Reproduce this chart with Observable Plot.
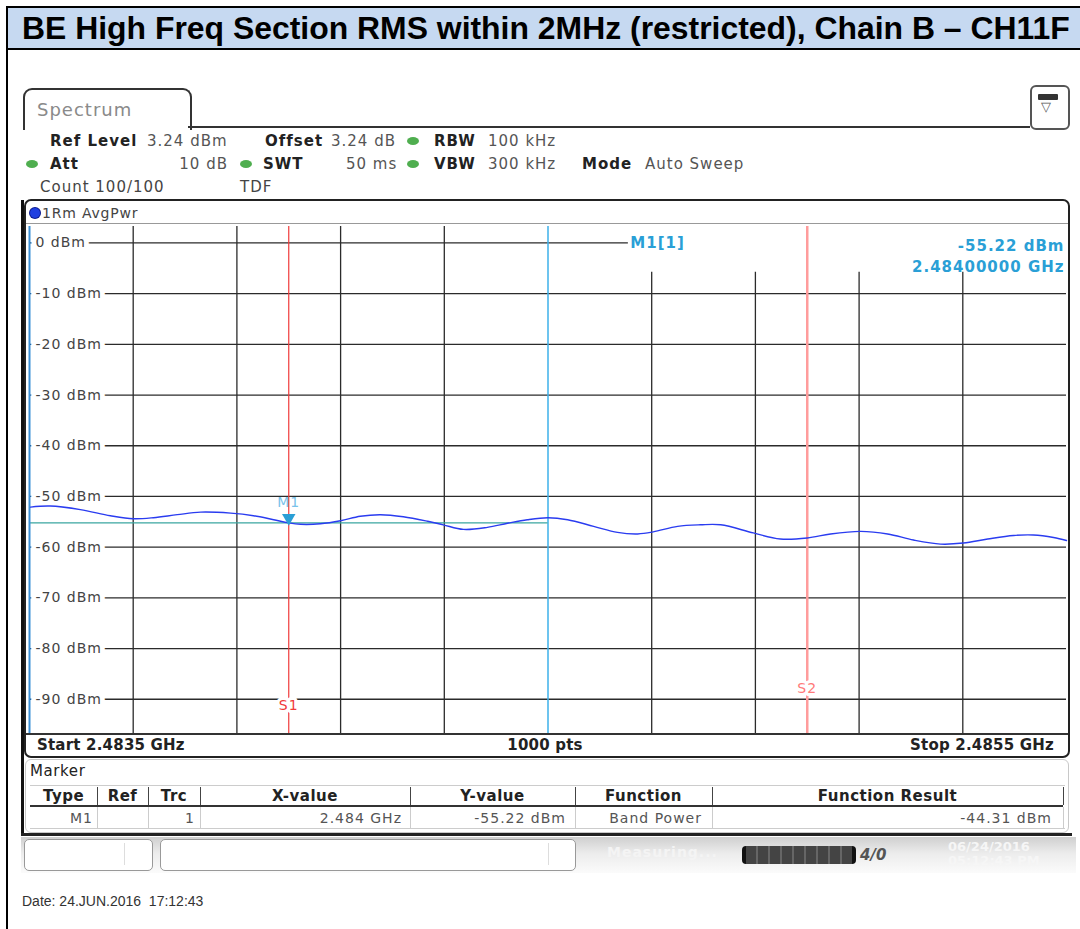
<!DOCTYPE html>
<html><head><meta charset="utf-8">
<script src="https://cdn.jsdelivr.net/npm/d3@7"></script>
<script src="https://cdn.jsdelivr.net/npm/@observablehq/plot@0.6"></script>
<style>
body{margin:0;width:1080px;height:929px;position:relative;overflow:hidden;background:#fff;font-family:"DejaVu Sans",sans-serif;}
.a{position:absolute;white-space:nowrap;}
.s{font-family:"DejaVu Sans";font-size:15px;line-height:18px;color:#555;letter-spacing:1px;}
.b{font-weight:bold;color:#222;}
.dot{position:absolute;width:12px;height:8px;border-radius:50%;background:#4fae4f;}
.ln{position:absolute;}
</style></head>
<body>
<div id="root"></div>
<script>
// ---------- data ----------
const titleText = "BE High Freq Section RMS within 2MHz (restricted), Chain B \u2013 CH11F";
const freqMHz = [2483.502,2483.540,2483.598,2483.656,2483.700,2483.739,2483.785,2483.830,2483.888,2483.932,2483.971,2484.000,2484.023,2484.061,2484.100,2484.138,2484.177,2484.221,2484.268,2484.298,2484.337,2484.383,2484.422,2484.460,2484.500,2484.538,2484.588,2484.634,2484.673,2484.703,2484.750,2484.794,2484.833,2484.896,2484.948,2485.000,2485.045,2485.103,2485.155,2485.205,2485.257,2485.301,2485.348,2485.398,2485.436,2485.475,2485.500];
const levelDbm = [-52.1,-51.9,-52.6,-53.8,-54.4,-54.2,-53.6,-53.1,-53.3,-53.8,-54.6,-55.22,-55.5,-55.4,-54.8,-53.9,-53.6,-54.0,-54.9,-55.6,-56.5,-56.1,-55.3,-54.6,-54.2,-54.6,-55.9,-57.1,-57.4,-57.0,-55.9,-55.6,-55.6,-57.2,-58.4,-58.2,-57.4,-56.9,-57.4,-58.6,-59.4,-59.2,-58.4,-57.7,-57.6,-58.1,-58.7];
const gridLevels = [0,-10,-20,-30,-40,-50,-60,-70,-80,-90];
const gridFreqsLeft = [2483.7,2483.9,2484.1,2484.3];
const gridFreqsRight = [2484.7,2484.9,2485.1,2485.3];
const refLevel = 3.24, bottomLevel = -96.76;
const startMHz = 2483.5, stopMHz = 2485.5, centerMHz = 2484.5;
const markerFreq = 2484.0, markerLevel = -55.22;
const s1Freq = 2484.0, s2Freq = 2485.0;
const readoutTop = -5.8; // dBm where right-half grid lines start
const zeroLineEnd = 2484.655;
const header1 = [["Ref Level",1,50],["3.24 dBm",0,147],["Offset",1,265],["3.24 dB",0,331],["RBW",1,434],["100 kHz",0,488]];
const header2 = [["Att",1,50],["SWT",1,263],["50 ms",0,346],["VBW",1,434],["300 kHz",0,488],["Mode",1,582],["Auto Sweep",0,645]];
const tableCols = ["Type","Ref","Trc","X-value","Y-value","Function","Function Result"];
const tableRow = ["M1","","1","2.484 GHz","-55.22 dBm","Band Power","-44.31 dBm"];
const colEdges = [30,97,148,200,410,575,712,1063];

const root = document.getElementById("root");
function add(html){root.insertAdjacentHTML("beforeend", html);}
function box(l,t,w,h,css){add(`<div class="ln" style="left:${l}px;top:${t}px;width:${w}px;height:${h}px;${css||""}"></div>`);}
function txt(s,l,cy,cls,css){add(`<div class="a ${cls||""}" style="left:${l}px;top:${cy-9}px;${css||""}">${s}</div>`);}

// outer document frame + title band
box(6,6,1080,940,"border-left:2px solid #000;border-top:2px solid #000;");
box(8,8,1072,40,"background:#c6d9f1;border-bottom:2px solid #000;");
add(`<div id="title" class="a" style="left:22px;top:13px;font-family:'Liberation Sans',Arial,sans-serif;font-weight:bold;font-size:25px;line-height:30px;color:#000;">${titleText}</div>`);

// tab + top line + icon
box(23,88,165,40,"border:2px solid #333;border-bottom:none;border-radius:9px 9px 0 0;background:#fff;");
txt("Spectrum",37,108,"","font-family:'DejaVu Sans';font-size:18px;color:#8a8a8a;letter-spacing:1px;");
box(188,126,842,2,"background:#333;");
box(1030,85,36,41,"border:2px solid #555;border-radius:6px;background:#fff;");
box(1038,94,20,6,"background:#333;border-radius:1px;");
add(`<div class="a" style="left:1041px;top:99px;font-size:13px;color:#555;">▽</div>`);

// header rows
header1.forEach(([s,b,x])=>txt(s,x,141,"s"+(b?" b":"")));
header2.forEach(([s,b,x])=>txt(s,x,164,"s"+(b?" b":"")));
txt("10 dB",228,164,"s","transform:translateX(-100%);");
[[407,137],[26,160],[240,160],[407,160]].forEach(([x,y])=>add(`<div class="dot" style="left:${x}px;top:${y}px"></div>`));
txt("Count 100/100",40,187,"s","color:#444;");
txt("TDF",240,187,"s","color:#444;");

// trace window
box(21,200,3,636,"background:#111;");
box(24,199,1042,555,"border:2px solid #222;border-radius:7px;");
add(`<div class="a" style="left:30px;top:208px;width:10px;height:10px;border-radius:50%;background:#1f3fe0;box-shadow:0 0 0 1px #0a1a90;"></div>`);
txt("1Rm AvgPwr",42,213,"s","color:#444;font-size:14px;letter-spacing:0.8px;");
box(26,223,1042,1,"background:#999;");
box(26,733,1042,2,"background:#333;");
txt("Start 2.4835 GHz",37,745,"s b","letter-spacing:0.2px;");
txt("1000 pts",545,745,"s b","letter-spacing:0.2px;transform:translateX(-50%);");
txt("Stop 2.4855 GHz",1054,745,"s b","letter-spacing:0.2px;transform:translateX(-100%);");

// marker table
box(25,759,1042,72,"border:1px solid #c8c8c8;border-radius:6px;");
txt("Marker",30,771,"s","color:#222;letter-spacing:0.6px;");
box(30,785,1035,1,"background:#ccc;");
box(30,805,1033,2,"background:#333;");
box(30,828,1035,1,"background:#ccc;");
colEdges.slice(1).forEach(x=>{box(x,787,1,18,"background:#444;");box(x,807,1,21,"background:#ccc;");});
tableCols.forEach((s,i)=>{const c=(colEdges[i]+colEdges[i+1])/2;txt(s,c,796,"s b","letter-spacing:0.5px;transform:translateX(-50%);");});
const rowRight=[93,0,195,402,566,702,1052];
tableRow.forEach((s,i)=>{if(s)txt(s,rowRight[i],818,"s","font-size:14px;transform:translateX(-100%);");});
box(21,833,1051,3,"background:#222;");

// status bar
box(21,837,1055,36,"background:linear-gradient(#cfcfcf,#ececec 45%,#fbfbfb);");
box(24,839,127,30,"border:1px solid #999;border-radius:5px;background:#fff;");
box(124,843,1,22,"background:#ddd;");
box(160,839,414,30,"border:1px solid #999;border-radius:5px;background:#fff;");
box(548,843,1,22,"background:#ddd;");
txt("Measuring...",607,853,"","font-size:14px;font-weight:bold;color:#f4f4f4;letter-spacing:1px;");
box(742,846,106,18,"background:repeating-linear-gradient(90deg,#444 0 10px,#666 10px 12px);border-radius:4px;border-left:4px solid #111;border-right:4px solid #111;");
txt("4/0",860,855,"","font-size:15px;font-weight:bold;font-style:italic;color:#555;");
txt("06/24/2016",948,848,"","font-size:13px;font-weight:bold;color:#f6f6f6;");
txt("05:12:43 PM",948,862,"","font-size:13px;font-weight:bold;color:#f6f6f6;");

// date
txt("Date: 24.JUN.2016&nbsp;&nbsp;17:12:43",22,902,"","font-family:'Liberation Sans',Arial,sans-serif;font-size:14px;color:#333;");

// ---------- plot ----------
const trace = freqMHz.map((f,i)=>({f, v: levelDbm[i]}));
const font = "DejaVu Sans";
const chart = Plot.plot({
  width: 1037, height: 507, margin: 0,
  x: {domain: [startMHz, stopMHz], axis: null},
  y: {domain: [bottomLevel, refLevel], axis: null},
  style: {fontFamily: font, fontSize: "14px", letterSpacing: "1px", overflow: "visible", background: "transparent"},
  marks: [
    Plot.ruleY(gridLevels.filter(d=>d!==0), {stroke: "#2b2b2b", strokeWidth: 1.3}),
    Plot.ruleY([0], {x1: startMHz, x2: zeroLineEnd, stroke: "#2b2b2b", strokeWidth: 1.3}),
    Plot.ruleX(gridFreqsLeft, {stroke: "#2b2b2b", strokeWidth: 1.3}),
    Plot.ruleX(gridFreqsRight, {y1: bottomLevel, y2: readoutTop, stroke: "#2b2b2b", strokeWidth: 1.3}),
    Plot.ruleX([centerMHz], {stroke: "#3cb0ea", strokeWidth: 1.5}),
    Plot.ruleY([markerLevel], {x1: startMHz, x2: centerMHz, stroke: "#3aa6a0", strokeWidth: 1.3}),
    Plot.ruleX([s1Freq], {stroke: "#f03a3a", strokeWidth: 1.2}),
    Plot.ruleX([s2Freq], {stroke: "#ff9c9c", strokeWidth: 2.5}),
    Plot.text(gridLevels, {x: startMHz, y: d=>d, text: d=>`${d} dBm`, textAnchor: "start", dx: 6, fill: "#444", stroke: "white", strokeWidth: 10}),
    Plot.ruleX([startMHz], {stroke: "#3a8fd6", strokeWidth: 2}),
    Plot.line(trace, {x: "f", y: "v", stroke: "#2a3cf0", strokeWidth: 1.4, curve: "catmull-rom"}),
    Plot.text(["S1"], {x: s1Freq, y: -91.2, text: d=>d, fill: "#f03a3a", stroke: "white", strokeWidth: 6}),
    Plot.text(["S2"], {x: s2Freq, y: -87.9, text: d=>d, fill: "#ff7a7a", stroke: "white", strokeWidth: 6}),
    Plot.dot([markerLevel], {x: markerFreq, y: d=>d, symbol: "triangle", rotate: 180, r: 5, dy: -5, fill: "#2a9fd6"}),
    Plot.text(["M1"], {x: markerFreq, y: markerLevel, text: d=>d, dy: -20, fill: "#78c2ea"}),
    Plot.text(["M1[1]"], {x: zeroLineEnd, y: 0, text: d=>d, textAnchor: "start", dx: 2, fill: "#2a9fd6", fontWeight: "bold", fontSize: 15}),
    Plot.text([`${markerLevel.toFixed(2)} dBm`], {frameAnchor: "top-right", text: d=>d, textAnchor: "end", dx: -2, dy: 14, fill: "#2a9fd6", fontWeight: "bold", fontSize: 15}),
    Plot.text([`${(markerFreq/1000).toFixed(8)} GHz`], {frameAnchor: "top-right", text: d=>d, textAnchor: "end", dx: -2, dy: 35, fill: "#2a9fd6", fontWeight: "bold", fontSize: 15})
  ]
});
chart.style.position = "absolute";
chart.style.left = "29px";
chart.style.top = "226px";
root.appendChild(chart);

// fit title width by font size
const t = document.getElementById("title");
const w = t.getBoundingClientRect().width;
t.style.fontSize = (25 * 1048 / w).toFixed(2) + "px";
</script>
</body></html>
